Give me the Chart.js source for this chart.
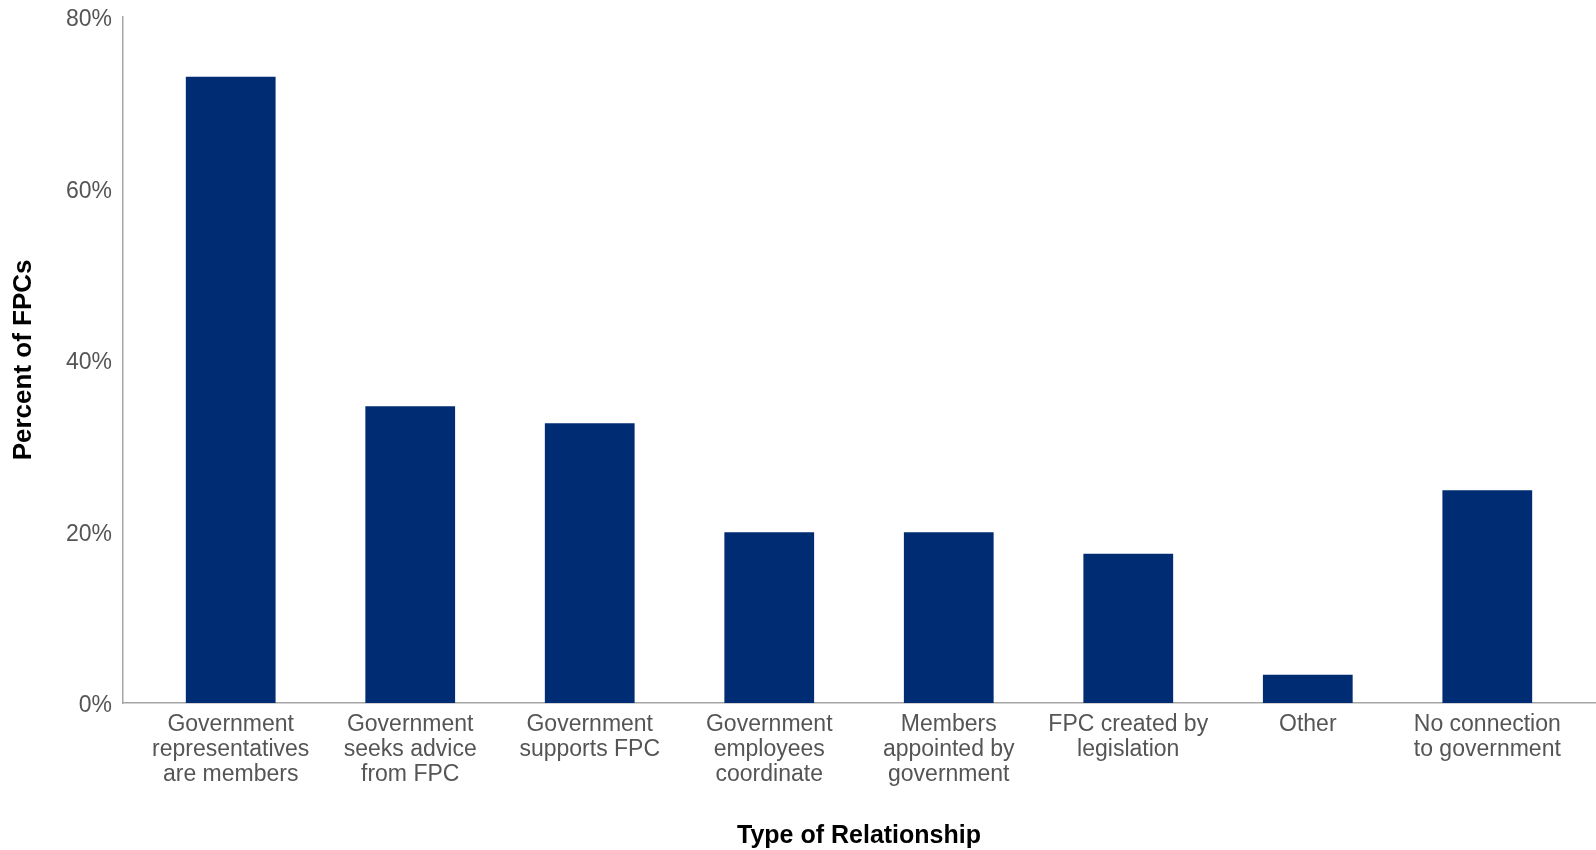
<!DOCTYPE html>
<html>
<head>
<meta charset="utf-8">
<script src="https://cdn.jsdelivr.net/npm/chart.js@4.4.1/dist/chart.umd.min.js"></script>
<style>
  html, body { margin: 0; padding: 0; background: #ffffff; }
  #wrap { width: 1596px; height: 850px; position: relative; }
</style>
</head>
<body>
<div id="wrap"><canvas id="c"></canvas></div>
<script>
const categories = [
  ["Government", "representatives", "are members"],
  ["Government", "seeks advice", "from FPC"],
  ["Government", "supports FPC"],
  ["Government", "employees", "coordinate"],
  ["Members", "appointed by", "government"],
  ["FPC created by", "legislation"],
  ["Other"],
  ["No connection", "to government"]
];
const percentValues = [73.0, 34.6, 32.6, 19.9, 19.9, 17.4, 3.3, 24.8];
const yTickValues = [0, 20, 40, 60, 80];
const xAxisTitle = "Type of Relationship";
const yAxisTitle = "Percent of FPCs";

const points = percentValues.map((v, i) => ({ x: i, y: v }));

new Chart(document.getElementById('c'), {
  type: 'bar',
  data: {
    datasets: [{
      data: points,
      backgroundColor: '#002c73',
      borderWidth: 0,
      barPercentage: 0.5,
      categoryPercentage: 1.0
    }]
  },
  options: {
    responsive: true,
    maintainAspectRatio: false,
    animation: false,
    layout: { padding: { top: 9, right: 1, left: 0, bottom: 0 } },
    plugins: { legend: { display: false }, tooltip: { enabled: false } },
    scales: {
      x: {
        type: 'linear',
        offset: false,
        min: -0.6,
        max: categories.length - 1 + 0.6,
        afterBuildTicks: (s) => { s.ticks = categories.map((c, i) => ({ value: i })); },
        afterFit: (s) => { s.height = 147; },
        grid: { display: false },
        border: { display: true, color: '#a6a6a6', width: 1.5 },
        ticks: {
          autoSkip: false,
          maxRotation: 0,
          minRotation: 0,
          padding: 1,
          color: '#555555',
          font: { family: '"Liberation Sans", Arial, Helvetica, sans-serif', size: 23, lineHeight: 1.09 },
          callback: (v) => categories[v]
        },
        title: {
          display: true,
          text: xAxisTitle,
          color: '#000000',
          padding: { top: 0, bottom: 0 },
          font: { family: '"Liberation Sans", Arial, Helvetica, sans-serif', size: 25, weight: 'bold', lineHeight: 1.1 }
        }
      },
      y: {
        min: 0,
        max: 80,
        afterBuildTicks: (s) => { s.ticks = yTickValues.map(v => ({ value: v })); },
        afterFit: (s) => { s.width = 123; },
        grid: { display: false },
        border: { display: true, color: '#a6a6a6', width: 1.5 },
        ticks: {
          padding: 3,
          labelOffset: 3,
          color: '#555555',
          font: { family: '"Liberation Sans", Arial, Helvetica, sans-serif', size: 23 },
          callback: (v) => v + '%'
        },
        title: {
          display: true,
          text: yAxisTitle,
          color: '#000000',
          padding: { top: 8, bottom: 0 },
          font: { family: '"Liberation Sans", Arial, Helvetica, sans-serif', size: 26, weight: 'bold', lineHeight: 1.2 }
        }
      }
    }
  }
});
</script>
</body>
</html>
